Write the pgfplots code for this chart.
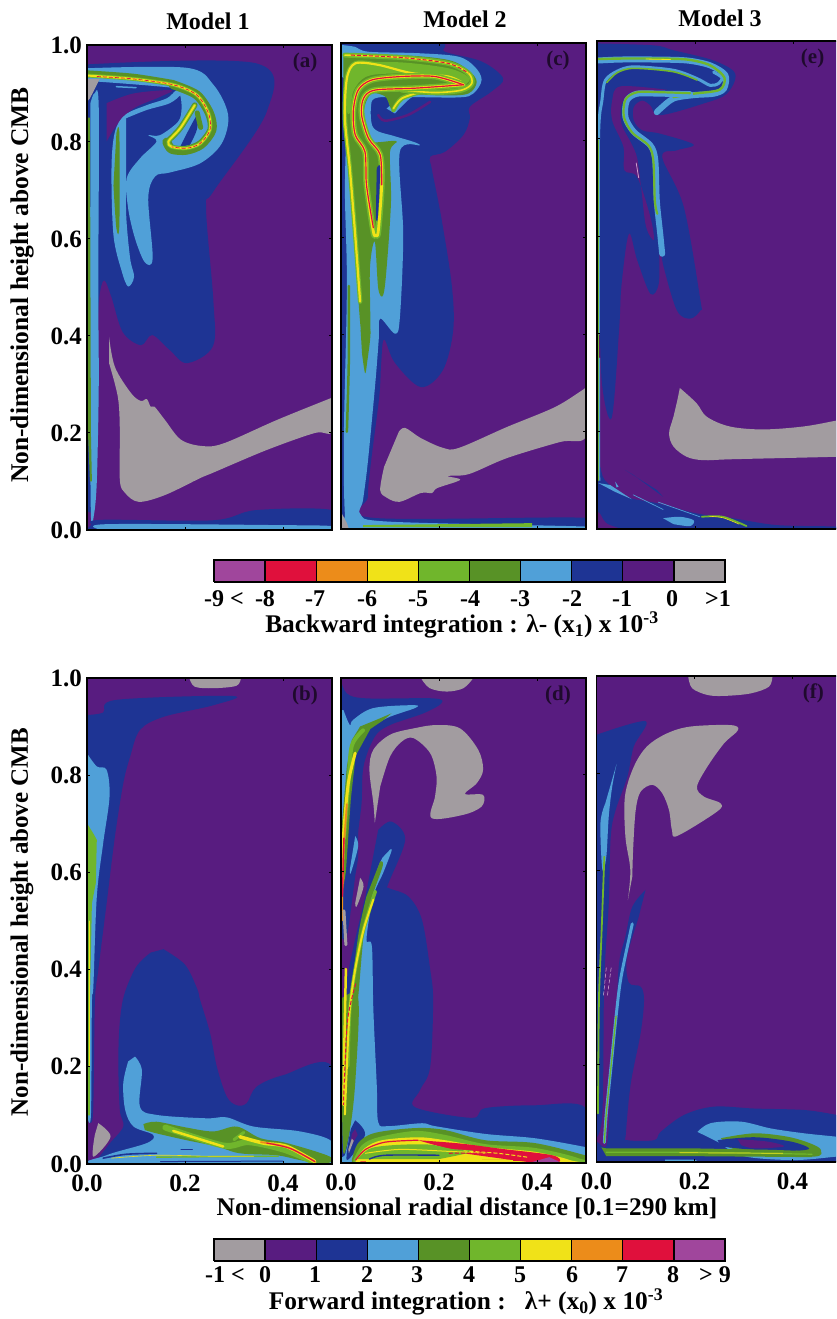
\documentclass[border=0pt]{standalone}
\usepackage{fontspec}
\setmainfont{Liberation Serif}
\usepackage{pgfplots}
\pgfplotsset{compat=1.18}
\definecolor{pur}{RGB}{88,28,128}
\definecolor{blu}{RGB}{30,52,148}
\definecolor{lbl}{RGB}{80,160,216}
\definecolor{dgr}{RGB}{88,146,38}
\definecolor{lgr}{RGB}{112,182,44}
\definecolor{yel}{RGB}{240,226,24}
\definecolor{ora}{RGB}{236,140,26}
\definecolor{red1}{RGB}{224,16,60}
\definecolor{mag}{RGB}{160,70,156}
\definecolor{gry}{RGB}{162,156,160}
\newcommand\R[2]{\addplot[fill=#1,draw=none,smooth,tension=.55] coordinates {#2};}
\newcommand\Q[2]{\addplot[fill=#1,draw=none] coordinates {#2};}
\newcommand\Ln[3]{\addplot[draw=#1,line width=#2pt,smooth,tension=.5,line cap=round,line join=round] coordinates {#3};}
\newcommand\Ld[3]{\addplot[draw=#1,line width=#2pt,smooth,tension=.5,dash pattern=on 4pt off 2pt] coordinates {#3};}
\newcommand\T[3]{\node[anchor=center,inner sep=0pt] at (#1pt,{1319pt-#2pt}) {\bfseries\fontsize{24}{26}\selectfont #3};}
\newcommand\TT[3]{\node[anchor=center,inner sep=0pt] at (#1pt,{1319pt-#2pt}) {\bfseries\fontsize{25.4}{26}\selectfont #3};}
\tikzset{tagf/.style={font=\bfseries\fontsize{21}{21}\selectfont,text=black!65!pur}}
\pgfplotsset{panel/.style={scale only axis,width=245pt,xmin=0,xmax=.5,ymin=0,ymax=1,anchor=south west,
 axis background/.style={fill=pur},axis line style={line width=1.7pt,black},axis on top,
 xtick={0,.2,.4},ytick={0,.2,.4,.6,.8,1},tick align=inside,major tick length=3pt,
 tick style={line width=1pt,black},xticklabels={},yticklabels={},
 tick label style={font=\bfseries\fontsize{25}{25}\selectfont},
 xtick pos=both,ytick pos=both,
 xticklabel shift=7pt,yticklabel shift=1.5pt},
 cbar/.style={scale only axis,width=511pt,height=22pt,xmin=0,xmax=10,ymin=0,ymax=1,anchor=south west,hide axis,clip=false}}
\begin{document}
\begin{tikzpicture}
\path[use as bounding box] (0,0) rectangle (836pt,1319pt);
\clip (0,0) rectangle (836pt,1319pt);
% ---------- panel a
\begin{axis}[panel,height=485pt,at={(87pt,789pt)},yticklabels={0.0,0.2,0.4,0.6,0.8,1.0}]
\R{blu}{(0,.96)(.346,.962)(.367,.863)(.258,.698)(.243,.663)(.258,.471)(.257,.379)(.204,.344)(.169,.371)(.133,.402)(.11,.381)(.073,.408)(.05,.48)(.035,.515)(.025,.48)(.022,.4)(.018,.1)(.012,.04)(0,.04)}
\R{pur}{(.04,.88)(.095,.9)(.173,.907)(.149,.893)(.095,.869)(.061,.835)(.04,.801)}
\R{lbl}{(.007,.88)(.015,.9)(.024,.87)(.023,.5)(.024,.3)(.02,.1)(.014,.03)(.008,.03)(.006,.3)}
\Q{dgr}{(.002,.85)(.006,.85)(.008,.2)(.01,.1)(.006,.1)(.002,.2)}
\R{blu}{(0,0)(.008,.01)(.029,.021)(.257,.02)(.345,.041)(.5,.041)(.5,0)}
\R{lbl}{(.03,0)(.04,.012)(.4,.01)(.5,.008)(.5,0)}
\R{lbl}{(0,.952)(.203,.953)(.258,.918)(.288,.856)(.275,.797)(.231,.756)(.169,.737)(.139,.729)(.125,.684)(.134,.56)(.118,.552)(.098,.601)(.084,.663)(.081,.725)(.108,.766)(.142,.801)(.125,.814)(.149,.814)(.186,.842)(.193,.869)(.19,.897)(.18,.911)(0,.926)}
\R{lbl}{(.08,.849)(.122,.866)(.169,.88)(.193,.9)(.183,.907)(.163,.89)(.122,.876)(.078,.856)(.057,.821)(.05,.746)(.054,.608)(.071,.533)(.084,.502)(.096,.522)(.088,.56)(.08,.649)(.08,.742)}
\R{dgr}{(.06,.818)(.066,.818)(.066,.629)(.06,.622)(.054,.71)}
\Q{gry}{(0,.93)(.026,.93)(.006,.89)(0,.883)}
\Ln{lbl}{1.5}{(.06,.914)(.08,.913)(.1,.912)}
\R{lbl}{(.183,.792)(.22,.852)(.234,.852)(.239,.818)(.22,.797)}
\R{blu}{(.19,.79)(.225,.856)(.224,.825)(.21,.794)}
\Ln{dgr}{6.5}{(0,.941)(.095,.934)(.176,.921)}
\Ln{dgr}{9}{(.176,.918)(.224,.897)(.25,.859)(.255,.825)(.233,.795)(.203,.783)(.173,.785)(.163,.8)}
\Ln{dgr}{5.5}{(.163,.8)(.19,.828)(.22,.876)}
\Ln{dgr}{5}{(.225,.86)(.232,.83)}
\Ln{lgr}{3.8}{(0,.937)(.095,.93)(.176,.918)(.224,.897)(.248,.859)(.251,.825)(.231,.797)(.203,.787)(.173,.79)(.166,.801)(.19,.828)(.22,.876)}
\Ln{yel}{2}{(0,.937)(.095,.93)(.176,.918)(.224,.897)(.248,.859)(.251,.825)(.231,.797)(.203,.787)(.173,.79)(.166,.801)(.19,.828)(.22,.876)}
\Ld{red1}{.7}{(.02,.935)(.095,.93)(.176,.918)(.224,.897)(.248,.859)(.251,.825)(.231,.797)(.203,.787)(.173,.79)}
\R{gry}{(.045,.398)(.057,.336)(.09,.282)(.11,.266)(.122,.27)(.13,.254)(.138,.254)(.159,.227)(.192,.186)(.236,.173)(.28,.179)(.388,.227)(.498,.272)(.5,.272)(.5,.202)(.465,.2)(.367,.165)(.257,.118)(.231,.107)(.159,.072)(.106,.058)(.078,.076)(.067,.103)(.067,.206)(.063,.274)(.045,.344)}
\node[tagf] at (rel axis cs:.89,.965) {(a)};
\end{axis}
% ---------- panel c
\begin{axis}[panel,height=486pt,at={(341pt,790pt)}]
\R{blu}{(0,1)(.199,1)(.212,.982)(.287,.962)(.331,.927)(.307,.9)(.263,.869)(.263,.845)(.25,.811)(.212,.776)(.182,.766)(.185,.742)(.205,.639)(.226,.502)(.229,.409)(.208,.327)(.163,.292)(.11,.342)(.088,.39)(.082,.342)(.078,.272)(.061,.136)(.055,.066)(.065,.023)(.5,.023)(.5,0)(0,0)}
\R{lbl}{(0,.996)(.029,.992)(.056,.982)(.158,.979)(.239,.972)(.273,.951)(.287,.924)(.27,.896)(.239,.888)(.117,.889)(.069,.886)(.061,.866)(.063,.832)(.076,.818)(.11,.808)(.161,.79)(.12,.776)(.127,.605)(.12,.433)(.11,.402)(.08,.433)(.077,.39)(.07,.3)(.055,.14)(.045,.06)(.04,.03)(.1,.015)(.5,.005)(.5,0)(.02,0)(.008,.03)(.006,.2)(.012,.5)(.008,.7)(.012,.9)(0,.93)}
\R{lbl}{(.093,.865)(.12,.885)(.165,.9)(.14,.885)(.11,.855)}
\R{dgr}{(.005,.975)(.124,.975)(.219,.965)(.26,.944)(.277,.92)(.26,.896)(.212,.892)(.144,.894)(.124,.886)(.107,.862)(.1,.869)(.09,.89)(.063,.896)(.049,.872)(.045,.831)(.059,.797)(.113,.798)(.1,.776)(.102,.673)(.093,.536)(.086,.481)(.076,.495)(.069,.591)(.059,.536)(.059,.399)(.042,.399)(.029,.571)(.015,.742)(.008,.811)(.005,.879)(.005,.948)}
\R{lgr}{(.03,.96)(.124,.96)(.219,.948)(.26,.93)(.25,.915)(.19,.935)(.1,.937)(.05,.93)(.025,.9)(.02,.86)(.012,.86)(.012,.93)}
\R{dgr}{(.04,.41)(.06,.41)(.053,.34)(.049,.321)(.043,.36)}
\Ln{dgr}{2.5}{(.016,.5)(.016,.35)(.012,.2)}
\Ln{lgr}{4.5}{(.107,.862)(.124,.886)(.165,.9)}
\Ln{yel}{1.8}{(.107,.865)(.124,.886)(.165,.9)}
\Ln{lgr}{5}{(.008,.975)(.124,.97)(.219,.958)(.26,.938)(.267,.917)(.246,.903)(.192,.898)(.124,.903)}
\Ln{yel}{1.6}{(.008,.975)(.124,.97)(.219,.958)(.26,.938)(.267,.917)(.246,.903)(.192,.898)(.124,.903)}
\Ln{lgr}{4.5}{(.039,.468)(.029,.605)(.018,.742)(.008,.845)(.012,.927)(.029,.958)(.076,.955)(.144,.938)(.219,.931)(.25,.917)}
\Ln{yel}{2.2}{(.039,.468)(.029,.605)(.018,.742)(.008,.845)(.012,.927)(.029,.958)(.076,.955)(.144,.938)(.219,.931)(.25,.917)}
\Ln{lgr}{6}{(.25,.914)(.192,.931)(.124,.931)(.063,.924)(.035,.903)(.025,.859)(.029,.811)(.049,.776)(.052,.708)(.066,.612)(.071,.605)(.076,.612)(.083,.708)(.08,.77)(.056,.804)(.042,.852)(.046,.886)(.069,.903)(.151,.907)(.25,.914)}
\Ln{yel}{2.8}{(.25,.914)(.192,.931)(.124,.931)(.063,.924)(.035,.903)(.025,.859)(.029,.811)(.049,.776)(.052,.708)(.066,.612)(.071,.605)(.076,.612)(.083,.708)(.08,.77)(.056,.804)(.042,.852)(.046,.886)(.069,.903)(.151,.907)(.25,.914)}
\Ln{red1}{1.2}{(.25,.914)(.192,.931)(.124,.931)(.063,.924)(.035,.903)(.025,.859)(.029,.811)(.049,.776)(.052,.708)(.066,.62)}
\Ln{red1}{1.2}{(.083,.708)(.08,.77)(.056,.804)(.042,.852)(.046,.886)(.069,.903)(.151,.907)(.25,.914)}
\Ld{red1}{1}{(.02,.975)(.124,.97)(.219,.958)(.26,.938)}
\R{blu}{(.073,.742)(.08,.742)(.075,.64)(.071,.64)}
\Ln{pur}{2.5}{(.076,.852)(.09,.84)(.137,.852)(.182,.879)}
\Q{lgr}{(.045,.008)(.39,.012)(.39,.004)(.045,.004)}
\Q{gry}{(0,0)(0,.035)(.012,.012)(.016,0)}
\R{gry}{(.118,.2)(.131,.208)(.163,.187)(.208,.167)(.241,.167)(.339,.21)(.437,.251)(.496,.288)(.5,.29)(.5,.19)(.447,.179)(.339,.146)(.261,.113)(.218,.109)(.243,.101)(.196,.084)(.186,.074)(.163,.074)(.12,.056)(.094,.064)(.08,.08)(.088,.128)}
\node[tagf] at (rel axis cs:.886,.965) {(c)};
\end{axis}
% ---------- panel e
\begin{axis}[panel,height=488pt,at={(597pt,790pt)}]
\R{blu}{(0,.995)(.116,.991)(.156,.981)(.238,.96)(.282,.933)(.265,.892)(.218,.872)(.129,.848)(.109,.868)(.092,.878)(.075,.865)(.075,.837)(.092,.817)(.129,.81)(.197,.788)(.163,.776)(.133,.762)(.177,.66)(.211,.469)(.211,.448)(.19,.431)(.163,.448)(.136,.537)(.128,.58)(.126,.503)(.109,.482)(.082,.551)(.065,.605)(.05,.5)(.045,.407)(.03,.228)(.01,.3)(.004,.5)(0,.7)}
\R{pur}{(.143,.9)(.048,.907)(.031,.878)(.031,.837)(.054,.783)(.056,.735)(.082,.721)(.109,.639)(.116,.592)(.1,.62)(.09,.7)(.082,.76)(.07,.79)(.05,.83)(.05,.87)(.065,.893)}
\Ln{mag!50!white}{.8}{(.08,.75)(.085,.72)}
\R{blu}{(0,.097)(.006,.128)(.016,.1)(.06,.066)(.122,.053)(.203,.032)(.278,.022)(.367,.008)(.488,.005)(.5,0)(.101,0)(.027,.008)(.006,.032)(0,.036)}
\Q{blu}{(.057,.121)(.074,.111)(.135,.066)(.122,.08)}
\Q{lbl}{(.003,.094)(.027,.09)(.071,.061)(.037,.076)}
\Q{lbl}{(.037,.097)(.044,.087)(.04,.085)}
\R{lbl}{(.135,.022)(.169,.025)(.197,.018)(.19,.006)(.156,.01)}
\Ln{lbl}{.7}{(.074,.07)(.135,.04)}
\Ln{lbl}{.7}{(.125,.055)(.21,.025)}
\Ln{lgr}{1.8}{(.214,.025)(.257,.025)(.305,.006)}
\Ln{yel}{.6}{(.23,.026)(.257,.023)(.29,.01)}
\Ln{lbl}{3}{(.003,.4)(.003,.796)(.01,.878)(.017,.919)(.041,.938)(.075,.947)(.156,.94)(.204,.923)(.231,.909)(.248,.913)(.255,.925)(.238,.936)}
\Ln{lgr}{1.6}{(.003,.1)(.003,.4)(.003,.796)}
\Ln{lbl}{1.2}{(.005,.35)(.005,.13)(.006,.1)}
\Ln{lgr}{1.6}{(.02,.915)(.041,.935)(.075,.944)(.156,.937)(.204,.92)}
\Ln{lbl}{6}{(.003,.96)(.048,.962)(.116,.962)(.184,.96)(.231,.95)(.262,.93)(.259,.902)(.238,.892)(.197,.889)(.156,.882)(.129,.861)(.122,.854)}
\Ln{lgr}{2.4}{(.003,.963)(.048,.964)(.116,.964)(.184,.962)(.231,.95)(.26,.925)(.25,.9)(.197,.892)(.156,.885)}
\Ln{yel}{.8}{(.1,.963)(.15,.962)}
\Ln{lbl}{6}{(.19,.891)(.129,.892)(.082,.892)(.061,.878)(.058,.844)(.075,.814)(.109,.786)(.119,.755)(.122,.673)(.129,.605)(.133,.564)}
\Ln{lgr}{2.2}{(.19,.893)(.129,.895)(.082,.895)(.058,.88)(.055,.844)(.072,.812)(.105,.786)(.115,.755)(.118,.673)(.123,.646)}
\R{gry}{(.169,.289)(.203,.258)(.224,.23)(.271,.21)(.339,.204)(.421,.21)(.488,.222)(.5,.224)(.5,.15)(.488,.148)(.278,.143)(.217,.141)(.183,.148)(.156,.169)(.147,.196)(.156,.23)(.164,.264)}
\node[tagf] at (rel axis cs:.88,.965) {(e)};
\end{axis}
% ---------- panel b
\begin{axis}[panel,height=486pt,at={(87pt,155pt)},yticklabels={0.0,0.2,0.4,0.6,0.8,1.0},xticklabels={0.0,0.2,0.4}]
\R{gry}{(.209,1)(.22,.982)(.258,.979)(.305,.984)(.314,1)}
\R{blu}{(0,.924)(.033,.929)(.06,.955)(.297,.963)(.258,.944)(.156,.92)(.108,.893)(.088,.838)(.074,.783)(.057,.674)(.04,.536)(.023,.399)(.016,.33)(.012,.1)(0,.1)}
\R{lbl}{(0,.845)(.02,.818)(.04,.811)(.046,.756)(.033,.66)(.02,.55)(.013,.365)(.01,.33)(.008,.1)(0,.1)}
\Q{lgr}{(0,.701)(.013,.68)(.02,.667)(.018,.578)(.01,.536)(.006,.337)(.006,.1)(0,.1)}
\Ln{yel}{.8}{(.004,.5)(.004,.2)}
\R{blu}{(.156,.442)(.2,.41)(.225,.36)(.231,.337)(.251,.27)(.265,.2)(.285,.139)(.305,.121)(.326,.125)(.346,.159)(.401,.183)(.5,.2)(.5,0)(.013,0)(.023,.012)(.047,.043)(.074,.077)(.067,.111)(.064,.2)(.066,.28)(.075,.345)(.1,.405)(.13,.435)}
\R{lbl}{(.098,.221)(.112,.193)(.108,.118)(.142,.101)(.244,.094)(.285,.096)(.34,.077)(.435,.067)(.5,.046)(.5,0)(.033,0)(.04,.018)(.122,.043)(.135,.06)(.095,.077)(.078,.111)(.074,.166)(.084,.211)}
\R{gry}{(.023,.084)(.048,.056)(.013,.015)(.016,.06)}
\R{dgr}{(.115,.082)(.142,.087)(.203,.075)(.258,.067)(.306,.077)(.354,.053)(.408,.043)(.496,.015)(.486,0)(.435,.008)(.387,.018)(.312,.022)(.265,.036)(.203,.049)(.142,.063)(.118,.07)}
\Ln{lgr}{6}{(.16,.075)(.278,.038)(.33,.045)(.4,.03)(.46,.006)}
\Ln{lgr}{3}{(.3,.05)(.32,.065)}
\Ln{yel}{2.5}{(.176,.068)(.278,.036)}
\Ln{yel}{3.5}{(.312,.056)(.36,.043)(.408,.036)(.465,.005)}
\Ln{ora}{1.8}{(.355,.045)(.41,.034)(.465,.005)}
\Ln{red1}{1.1}{(.367,.043)(.415,.032)(.465,.005)}
\Ln{blu}{1.2}{(.192,.03)(.215,.03)}
\Ln{blu}{1.6}{(.033,.012)(.08,.02)(.142,.022)}
\Ln{lgr}{1.4}{(.142,.014)(.25,.015)(.39,.016)}
\Ln{yel}{.6}{(.05,.012)(.142,.018)(.25,.016)(.34,.016)}
\Ln{blu}{1}{(.15,.005)(.4,.006)}
\node[tagf] at (rel axis cs:.89,.965) {(b)};
\end{axis}
% ---------- panel d
\begin{axis}[panel,height=485pt,at={(341pt,156pt)},xticklabels={0.0,0.2,0.4}]
\R{gry}{(.163,1)(.181,.979)(.216,.972)(.25,.979)(.27,1)}
\R{gry}{(.069,.701)(.066,.742)(.058,.811)(.066,.852)(.1,.883)(.148,.896)(.195,.903)(.243,.896)(.28,.852)(.29,.811)(.277,.783)(.253,.761)(.29,.759)(.287,.735)(.25,.718)(.185,.711)(.192,.756)(.195,.797)(.182,.845)(.148,.876)(.124,.869)(.1,.838)(.08,.776)}
\R{blu}{(0,.996)(.012,.968)(.052,.958)(.188,.958)(.205,.948)(.168,.927)(.1,.903)(.069,.879)(.046,.818)(.042,.742)(.035,.68)(.035,.632)(.029,.591)(.012,.468)(0,.468)}
\R{blu}{(.076,.687)(.103,.704)(.131,.667)(.097,.577)(.097,.567)(.137,.55)(.165,.502)(.182,.399)(.188,.335)(.182,.198)(.161,.15)(.151,.115)(.267,.093)(.294,.113)(.396,.119)(.5,.113)(.5,0)(0,0)(0,.3)(.05,.55)}
\R{lbl}{(.005,.934)(.018,.903)(.025,.914)(.066,.938)(.148,.944)(.151,.938)(.093,.917)(.046,.886)(.029,.838)(.018,.783)(.012,.687)(0,.605)(0,.934)}
\Q{dgr}{(.103,.927)(.073,.914)(.039,.9)(.022,.872)(.012,.818)(.002,.7)(.002,.55)(.01,.6)(.02,.75)(.03,.84)(.06,.895)(.085,.912)}
\Ln{lgr}{4}{(.045,.892)(.022,.86)(.015,.78)(.006,.67)}
\Ln{yel}{3}{(.029,.845)(.015,.783)(.005,.673)(.003,.577)}
\Ln{ora}{1.8}{(.012,.74)(.004,.62)(.002,.5)}
\Ln{red1}{1.4}{(.006,.67)(.003,.55)}
\R{lbl}{(.029,.674)(.035,.653)(.02,.598)(.018,.605)}
\R{gry}{(.039,.588)(.046,.57)(.032,.529)(.029,.536)}
\Ln{gry}{3}{(.006,.52)(.01,.45)}
\R{lbl}{(.1,.646)(.103,.643)(.086,.598)(.066,.55)(.052,.461)(.063,.447)(.066,.317)(.073,.16)(.076,.084)(.096,.076)(.165,.082)(.192,.076)(.294,.06)(.396,.051)(.498,.033)(.5,.03)(.5,0)(0,0)(.008,.016)(.018,.068)(.022,.16)(.025,.33)(.04,.45)(.07,.59)(.085,.63)}
\R{dgr}{(.08,.622)(.085,.612)(.059,.536)(.046,.468)(.032,.317)(.018,.317)(.035,.468)(.052,.55)}
\R{dgr}{(.002,.34)(.035,.34)(.03,.18)(.02,.08)(.005,.02)(.002,.15)}
\Ln{lgr}{3.5}{(.07,.56)(.046,.481)(.029,.399)(.018,.317)(.014,.2)}
\Ln{yel}{2}{(.066,.543)(.046,.481)(.029,.399)(.018,.317)(.012,.2)(.008,.1)}
\Ln{yel}{2.5}{(.01,.4)(.007,.25)(.005,.12)}
\Ld{red1}{1}{(.03,.37)(.014,.3)(.008,.2)(.005,.12)}
\R{blu}{(.029,.088)(.049,.058)(.012,.006)(.02,.07)}
\Q{pur}{(.029,.07)(.034,.058)(.018,.03)(.022,.06)}
\Q{gry}{(.022,.05)(.026,.046)(.016,.02)(.015,.028)}
\R{dgr}{(.022,.006)(.035,.041)(.069,.062)(.151,.072)(.212,.068)(.294,.047)(.396,.041)(.498,.016)(.5,.014)(.5,0)(.022,0)}
\R{lgr}{(.025,.006)(.043,.037)(.076,.053)(.151,.066)(.212,.058)(.294,.039)(.396,.031)(.484,.01)(.47,0)(.025,0)}
\R{yel}{(.03,.006)(.049,.031)(.084,.047)(.157,.053)(.212,.047)(.294,.033)(.396,.023)(.467,.006)(.45,0)(.03,0)}
\R{red1}{(.157,.047)(.245,.04)(.329,.029)(.431,.016)(.445,.002)(.4,0)(.25,.02)}
\Q{mag}{(.425,.012)(.445,.003)(.43,0)(.39,.002)}
\R{lgr}{(.033,.008)(.06,.03)(.11,.037)(.18,.038)(.226,.029)(.27,.024)(.2,.008)}
\Ln{red1}{1.2}{(.03,.006)(.05,.028)(.09,.043)(.157,.047)}
\Ln{blu}{1.4}{(.058,.008)(.09,.016)(.2,.016)}
\Ln{yel}{1}{(.05,.02)(.12,.028)(.22,.024)(.3,.02)}
\Ln{red1}{1.2}{(.04,.002)(.2,.004)(.39,.006)}
\Ld{red1}{1}{(.22,.02)(.3,.02)(.4,.01)}
\Ld{yel}{1}{(.25,.025)(.32,.02)(.38,.012)}
\Q{yel}{(.05,.006)(.35,.006)(.35,.003)(.05,.003)}
\node[tagf] at (rel axis cs:.886,.965) {(d)};
\end{axis}
% ---------- panel f
\begin{axis}[panel,height=486pt,at={(596.5pt,157pt)},xticklabels={0.0,0.2,0.4}]
\R{gry}{(.187,1)(.195,.975)(.226,.961)(.26,.959)(.314,.964)(.352,.978)(.359,1)}
\R{gry}{(.064,.539)(.069,.601)(.059,.669)(.058,.752)(.076,.813)(.103,.855)(.144,.882)(.192,.896)(.273,.899)(.289,.889)(.26,.861)(.226,.813)(.205,.772)(.219,.752)(.253,.738)(.246,.721)(.165,.671)(.154,.683)(.148,.724)(.134,.759)(.114,.776)(.09,.762)(.08,.724)(.075,.649)(.073,.587)}
\R{blu}{(0,.879)(.1,.907)(.076,.855)(.063,.793)(.039,.724)(.029,.669)(.025,.532)(.018,.422)(.015,.333)(.012,.1)(0,.05)}
\R{blu}{(.1,.56)(.073,.525)(.059,.464)(.046,.409)(.04,.3)(.03,.2)(.022,.04)(0,.04)(0,0)(.5,0)(.5,.095)(.49,.097)(.424,.107)(.322,.11)(.24,.114)(.179,.097)(.131,.062)(.118,.045)(.063,.045)(.06,.059)(.07,.162)(.09,.265)(.097,.333)(.09,.361)(.066,.369)(.062,.42)(.085,.5)}
\R{lbl}{(.041,.819)(.032,.772)(.025,.711)(.02,.628)(.012,.601)(.008,.697)(.018,.738)}
\Ln{lgr}{1.8}{(.016,.628)(.01,.464)(.005,.333)(.003,.1)}
\Ln{lbl}{3}{(.073,.49)(.05,.38)(.04,.3)(.03,.2)(.02,.1)(.016,.04)}
\Ln{lgr}{1.3}{(.04,.3)(.03,.2)(.02,.1)(.016,.04)}
\Ld{mag!40!white}{.5}{(.03,.4)(.022,.34)}
\Ld{mag!40!white}{.5}{(.02,.4)(.014,.34)}
\R{lbl}{(.206,.062)(.233,.08)(.295,.083)(.356,.069)(.424,.059)(.49,.052)(.5,.05)(.5,.01)(.49,.011)(.403,.004)(.3,.012)(.25,.04)}
\R{dgr}{(.254,.049)(.322,.059)(.39,.052)(.437,.038)(.458,.025)(.444,.011)(.322,.018)(.27,.03)}
\R{blu}{(.247,.045)(.322,.051)(.397,.042)(.434,.028)(.403,.023)(.322,.025)(.254,.032)}
\R{pur}{(.288,.047)(.349,.042)(.383,.032)(.322,.028)(.295,.035)}
\Q{dgr}{(.01,.03)(.02,.028)(.2,.028)(.36,.025)(.44,.022)(.44,.01)(.2,.012)(.02,.012)}
\Ln{lgr}{1.2}{(.02,.02)(.2,.02)(.44,.016)}
\Ln{yel}{.7}{(.17,.019)(.38,.018)}
\Q{lbl}{(.14,.005)(.2,.005)(.21,0)(.14,0)}
\node[tagf] at (rel axis cs:.885,.965) {(f)};
\end{axis}
% ---------- colour bars
\begin{axis}[cbar,at={(214pt,737pt)}]
\Q{mag}{(0,0)(1,0)(1,1)(0,1)}\Q{red1}{(1,0)(2,0)(2,1)(1,1)}\Q{ora}{(2,0)(3,0)(3,1)(2,1)}\Q{yel}{(3,0)(4,0)(4,1)(3,1)}\Q{lgr}{(4,0)(5,0)(5,1)(4,1)}
\Q{dgr}{(5,0)(6,0)(6,1)(5,1)}\Q{lbl}{(6,0)(7,0)(7,1)(6,1)}\Q{blu}{(7,0)(8,0)(8,1)(7,1)}\Q{pur}{(8,0)(9,0)(9,1)(8,1)}\Q{gry}{(9,0)(10,0)(10,1)(9,1)}
\addplot[ycomb,black,line width=1.3pt] coordinates {(1,1)(2,1)(3,1)(4,1)(5,1)(6,1)(7,1)(8,1)(9,1)};
\addplot[black,line width=1.9pt] coordinates {(0,0)(10,0)(10,1)(0,1)(0,0)};
\end{axis}
\begin{axis}[cbar,at={(214pt,58pt)}]
\Q{gry}{(0,0)(1,0)(1,1)(0,1)}\Q{pur}{(1,0)(2,0)(2,1)(1,1)}\Q{blu}{(2,0)(3,0)(3,1)(2,1)}\Q{lbl}{(3,0)(4,0)(4,1)(3,1)}\Q{dgr}{(4,0)(5,0)(5,1)(4,1)}
\Q{lgr}{(5,0)(6,0)(6,1)(5,1)}\Q{yel}{(6,0)(7,0)(7,1)(6,1)}\Q{ora}{(7,0)(8,0)(8,1)(7,1)}\Q{red1}{(8,0)(9,0)(9,1)(8,1)}\Q{mag}{(9,0)(10,0)(10,1)(9,1)}
\addplot[ycomb,black,line width=1.3pt] coordinates {(1,1)(2,1)(3,1)(4,1)(5,1)(6,1)(7,1)(8,1)(9,1)};
\addplot[black,line width=1.9pt] coordinates {(0,0)(10,0)(10,1)(0,1)(0,0)};
\end{axis}
% ---------- text
\T{208}{21}{Model 1}\T{465}{19}{Model 2}\T{720}{18}{Model 3}
\node[rotate=90,inner sep=0pt] at (22pt,{1319pt-285pt}) {\bfseries\fontsize{25.5}{26}\selectfont Non-dimensional height above CMB};
\node[rotate=90,inner sep=0pt] at (22pt,{1319pt-922pt}) {\bfseries\fontsize{25}{26}\selectfont Non-dimensional height above CMB};
\TT{467}{1208}{Non-dimensional radial distance [0.1=290 km]}
\T{224}{599}{-9 <}\T{265}{599}{-8}\T{315}{599}{-7}\T{367}{599}{-6}\T{418}{599}{-5}\T{470}{599}{-4}\T{520}{599}{-3}\T{572}{599}{-2}\T{622}{599}{-1}\T{672}{599}{0}\T{718}{599}{>1}
\TT{462}{625}{Backward integration : λ- (x\textsubscript{1}) x 10\textsuperscript{-3}}
\T{225}{1275}{-1 <}\T{265}{1275}{0}\T{315}{1275}{1}\T{367}{1275}{2}\T{417}{1275}{3}\T{469}{1275}{4}\T{520}{1275}{5}\T{572}{1275}{6}\T{622}{1275}{7}\T{673}{1275}{8}\T{715}{1275}{> 9}
\TT{466}{1302}{Forward integration :\ \ \ λ+ (x\textsubscript{0}) x 10\textsuperscript{-3}}
\end{tikzpicture}
\end{document}
